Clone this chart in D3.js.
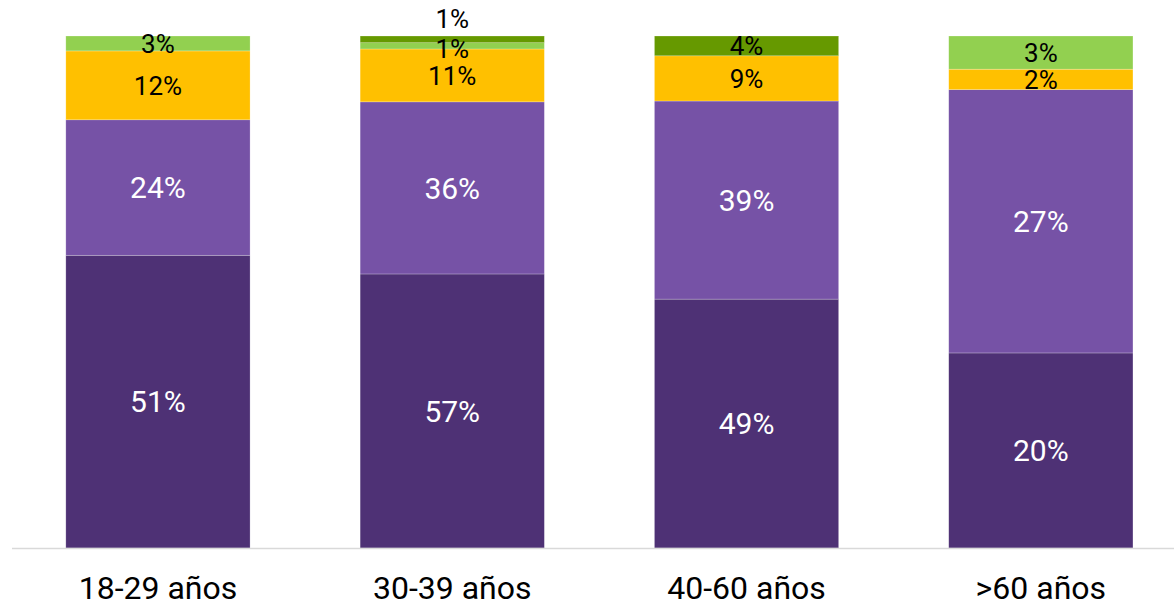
<!DOCTYPE html>
<html>
<head>
<meta charset="utf-8">
<script src="https://cdn.jsdelivr.net/npm/d3@7"></script>
<style>
  body { margin: 0; background: #fff; }
  svg { display: block; font-family: Roboto, "Noto Sans", sans-serif; }
</style>
</head>
<body>
<svg id="chart" width="1174" height="605"></svg>
<script>
const categories = ["18-29 años", "30-39 años", "40-60 años", ">60 años"];
const seriesKeys = ["s1", "s2", "s3", "s4", "s5"];
const seriesColors = ["#4e3175", "#7652a6", "#ffc000", "#92d050", "#669900"];
const labelColors = ["#fff", "#fff", "#000", "#000", "#000"];

// values per category (bottom to top), each bar is shown as 100%
const s1 = [51, 57, 49, 20];
const s2 = [23.6, 35.8, 39, 27];
const s3 = [12, 11, 8.9, 2.1];
const s4 = [2.6, 1.3, 0, 3.4];
const s5 = [0, 1.4, 3.9, 0];

const rows = categories.map((c, i) => ({
    cat: c, s1: s1[i], s2: s2[i], s3: s3[i], s4: s4[i], s5: s5[i]
}));

const svg = d3.select("#chart");
const width = 1174, height = 605;
const margin = {top: 36, bottom: 57};

const x = d3.scaleBand().domain(categories).range([10.8, 1188]).paddingInner(0.374).paddingOuter(0.187);
const y = d3.scaleLinear().domain([0, 1]).range([height - margin.bottom, margin.top]);

const stacked = d3.stack().keys(seriesKeys).offset(d3.stackOffsetExpand)(rows);

const groups = svg.append("g").selectAll("g").data(stacked).join("g")
    .attr("fill", (d, i) => seriesColors[i]);

groups.selectAll("rect").data(d => d.filter(p => p[1] - p[0] > 0)).join("rect")
    .attr("x", d => x(d.data.cat))
    .attr("width", x.bandwidth())
    .attr("y", d => y(d[1]))
    .attr("height", d => y(d[0]) - y(d[1]))
    .attr("stroke", "#fff").attr("stroke-opacity", 0.4).attr("stroke-width", 0.6);

// axis baseline
svg.append("line").attr("x1", 12).attr("x2", width).attr("y1", y(0) + 0.5).attr("y2", y(0) + 0.5)
    .attr("stroke", "#d9d9d9").attr("stroke-width", 1.5);

// value labels
stacked.forEach((layer, i) => {
    const key = layer.key;
    layer.forEach(p => {
        const v = p.data[key];
        if (!v) return;
        const top = y(p[1]), bot = y(p[0]);
        let cy = (top + bot) / 2;
        const isTop = p[1] >= 0.9999;
        if (isTop && bot - top < 10) cy = top - 17;
        else if (bot - top < 10) cy += 3;
        svg.append("text")
            .attr("x", x(p.data.cat) + x.bandwidth() / 2)
            .attr("y", cy)
            .attr("dy", "0.36em")
            .attr("text-anchor", "middle")
            .attr("fill", labelColors[i])
            .attr("font-size", labelColors[i] === "#fff" ? "30px" : "26px")
            .text(Math.round(v) + "%");
    });
});

// category labels
const xAxis = svg.append("g").attr("transform", `translate(0, ${y(0)})`)
    .call(d3.axisBottom(x).tickSize(0).tickPadding(0));
xAxis.select(".domain").remove();
xAxis.selectAll("text").attr("y", 51).attr("dy", 0)
    .attr("font-size", "32px").attr("fill", "#000")
    .attr("font-family", "Roboto, 'Noto Sans', sans-serif");
</script>
</body>
</html>
